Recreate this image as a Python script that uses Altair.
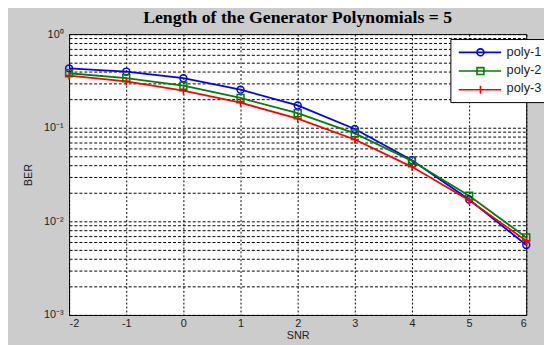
import altair as alt
import pandas as pd

snr = [-2, -1, 0, 1, 2, 3, 4, 5, 6]
poly1 = [0.431, 0.398, 0.338, 0.255, 0.173, 0.0969, 0.0449, 0.0171, 0.00559]
poly2 = [0.382, 0.338, 0.281, 0.208, 0.143, 0.0871, 0.0442, 0.0188, 0.00673]
poly3 = [0.361, 0.313, 0.249, 0.185, 0.125, 0.0748, 0.0382, 0.0168, 0.0062]
series = ["poly-1", "poly-2", "poly-3"]
colors = ["#0000ff", "#008000", "#ff0000"]
x_ticks = [-2, -1, 0, 1, 2, 3, 4, 5, 6]
y_ticks = [0.001, 0.002, 0.003, 0.004, 0.005, 0.006, 0.007, 0.008, 0.009,
           0.01, 0.02, 0.03, 0.04, 0.05, 0.06, 0.07, 0.08, 0.09,
           0.1, 0.2, 0.3, 0.4, 0.5, 0.6, 0.7, 0.8, 0.9, 1]
title = "Length of the Generator Polynomials = 5"

rows = []
for name, vals in zip(series, [poly1, poly2, poly3]):
    for s, v in zip(snr, vals):
        rows.append({"SNR": s, "BER": v, "series": name})
df = pd.DataFrame(rows)

# marker shapes on the plot (unit paths)
marker_paths = [
    "M1,0A1,1 0 1,1 -1,0A1,1 0 1,1 1,0Z",
    "M-1,-1H1V1H-1Z",
    "M0,-1.2V1.2M-1.2,0H1.2",
]
# legend symbols: line with marker in the middle
leg_paths = [
    "M-1,0H7.6M4.1,0A0.7,0.7 0 1,1 2.7,0A0.7,0.7 0 1,1 4.1,0Z",
    "M-1,0H7.6M2.7,-0.7H4.1V0.7H2.7Z",
    "M-1,0H7.6M3.4,-0.8V0.8",
]

LEG_X = 387
LEG_Y = 5
ROW_PAD = 4
ROW_STEP = 19

common = dict(
    title=None, orient="none", legendX=LEG_X, padding=7, rowPadding=ROW_PAD,
    cornerRadius=0, symbolSize=100, symbolStrokeWidth=1.6,
    symbolFillColor="transparent", labelOffset=37,
    labelFont="Liberation Sans", labelFontSize=13, labelColor="#222222",
)
# box + labels legend (symbols hidden)
legend_main = alt.Legend(legendY=LEG_Y, fillColor="white", strokeColor="black",
                         symbolOpacity=0, zindex=1, **common)

color_scale = alt.Scale(domain=series, range=colors)

x_enc = alt.X(
    "SNR:Q",
    scale=alt.Scale(domain=[-2, 6], nice=False),
    axis=alt.Axis(values=x_ticks, title="SNR", grid=True, gridDash=[2, 2],
                  gridColor="black", gridOpacity=1, gridWidth=1,
                  labelPadding=3, titlePadding=1,
                  labelExpr="'' + datum.value"),
)
y_enc = alt.Y(
    "BER:Q",
    scale=alt.Scale(type="log", domain=[0.001, 1], nice=False),
    axis=alt.Axis(
        values=y_ticks, title="BER", grid=True, gridDash=[3, 2],
        gridColor="black", gridOpacity=1, gridWidth=1,
        labelPadding=6, titlePadding=10,
        labelExpr="datum.value == 1 ? '10⁰' : datum.value == 0.1 ? '10⁻¹' : "
                  "datum.value == 0.01 ? '10⁻²' : datum.value == 0.001 ? '10⁻³' : ''",
    ),
)

lines = alt.Chart(df).mark_line(strokeWidth=1.8).encode(
    x=x_enc, y=y_enc,
    color=alt.Color("series:N", scale=color_scale, legend=legend_main),
    order=alt.Order("SNR:Q"),
)
points = alt.Chart(df).mark_point(filled=False, size=49, strokeWidth=1.5, opacity=1).encode(
    x=x_enc, y=y_enc,
    color=alt.Color("series:N", scale=color_scale, legend=legend_main),
    shape=alt.Shape("series:N", scale=alt.Scale(domain=series, range=marker_paths), legend=None),
)

# legend-symbol layers (no marks drawn), one per series
sym_layers = []
for i, (name, col, path) in enumerate(zip(series, colors, leg_paths)):
    leg = alt.Legend(legendY=LEG_Y + ROW_STEP * i, fillColor="transparent",
                     strokeColor="transparent", labelExpr="''",
                     symbolStrokeColor=col, zindex=2, **common)
    sym_layers.append(
        alt.Chart(df).transform_filter("false").mark_point(
            filled=False, size=100, strokeWidth=1.6, opacity=1, color=col
        ).encode(
            x=x_enc, y=y_enc,
            shape=alt.Shape("series:N", scale=alt.Scale(domain=[name], range=[path]),
                            legend=leg),
        )
    )

chart = alt.layer(lines, points, *sym_layers).resolve_scale(
    shape="independent"
).properties(
    width=464,
    height=285,
    background="#cccccc",
    padding={"left": 62, "top": 24, "right": 18, "bottom": 28},
    autosize=alt.AutoSizeParams(type="none"),
    title=alt.TitleParams(title, font="Liberation Serif", fontSize=18,
                          fontWeight="bold", color="black", offset=1,
                          anchor="middle"),
).configure_view(
    stroke="black", strokeWidth=1, fill="white"
).configure_axis(
    domain=False, ticks=False,
    labelFont="Liberation Sans", labelFontSize=11, labelColor="#222222",
    titleFont="Liberation Sans", titleFontSize=11, titleFontWeight="normal",
    titleColor="#222222",
)

chart.save("out.html", embed_options={"renderer": "svg", "actions": False})
